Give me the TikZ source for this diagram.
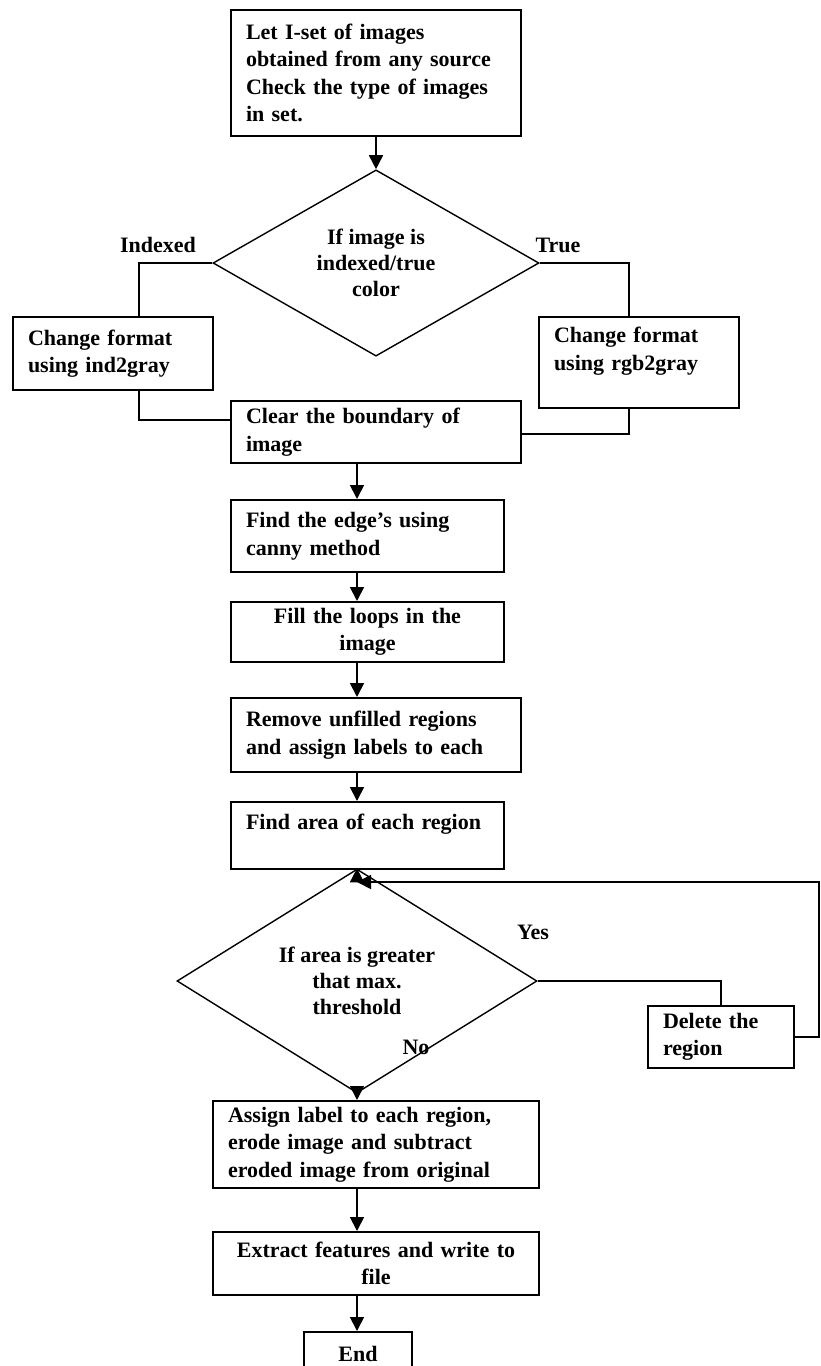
\documentclass[tikz,border=0pt]{standalone}
\usepackage{fontspec}
\setmainfont{Liberation Serif}
\usetikzlibrary{shapes.geometric,arrows.meta,calc}
\begin{document}
\begin{tikzpicture}[
        x=1pt, y=-1pt, % координаты в пикселях, ось y вниз
        txt/.style = {font=\bfseries\fontsize{22}{27.5}\selectfont},
        block/.style = {txt, draw, rectangle, line width=2pt, inner xsep=15pt, inner ysep=2pt, align=left}, % блоки
        cond/.style = {txt, draw, diamond, line width=1.4pt, inner sep=0pt, align=center, font=\bfseries\fontsize{22}{26}\selectfont}, % условия
        sign/.style = {txt, inner sep=0pt}, % подписи ветвей
        wire/.style = {draw, line width=1.8pt},
        flow/.style = {wire, -{Triangle[width=14pt, length=14pt]}},
    ]
    \useasboundingbox (0,0) rectangle (820,1366);
    \coordinate (axis) at (357,0);

    \node[block, text width=260pt, minimum height=126pt] (start) at (376,73) {Let I-set of images\\obtained from any source\\Check the type of images\\in set.};
    \node[cond, minimum width=326pt, minimum height=180pt] (dec1) at (376,263) {If image is\\indexed/true\\color};
    \node[block, text width=170pt, minimum height=73pt] (leftbox) at (113,353.5) {Change format\\using ind2gray};
    \node[block, text width=170pt, minimum height=91pt] (rightbox) at (639,362.5) {Change format\\using rgb2gray\\\mbox{}};
    \node[block, text width=260pt, minimum height=62pt] (clear) at (376,432) {Clear the boundary of\\image};
    \node[block, text width=243pt, minimum height=72pt] (edge) at (367.5,536) {Find the edge’s using\\canny method};
    \node[block, text width=243pt, minimum height=60pt, align=center] (fill) at (367.5,632) {Fill the loops in the\\image};
    \node[block, text width=260pt, minimum height=74pt] (remove) at (376,735) {Remove unfilled regions\\and assign labels to each};
    \node[block, text width=243pt, minimum height=67pt] (area) at (367.5,835.5) {Find area of each region\\\mbox{}};
    \node[cond, minimum width=360pt, minimum height=160pt] (dec2) at (357,981) {If area is greater\\that max.\\threshold};
    \node[block, text width=116pt, minimum height=62pt] (delete) at (721,1037) {Delete the\\region};
    \node[block, text width=296pt, minimum height=87pt] (assign) at (376,1144.5) {Assign label to each region,\\erode image and subtract\\eroded image from original};
    \node[block, text width=296pt, minimum height=63pt, align=center] (extract) at (376,1263.5) {Extract features and write to\\file};
    \node[block, text width=78pt, minimum height=44pt, align=center] (end) at (358,1354) {End};

    \node[sign] (indexed) at (158,245) {Indexed};
    \node[sign] (true) at (558,245) {True};
    \node[sign] (yes) at (533,932) {Yes};
    \node[sign] (no) at (416,1047) {No};

    % ветвление по типу изображения
    \draw[flow] (start.south) -- (dec1.north);
    \draw[wire] (dec1.west) -| ($(leftbox.north)+(26,0)$);
    \draw[wire] (dec1.east) -| ($(rightbox.north)+(-10,0)$);
    \draw[wire] ($(leftbox.south)+(26,0)$) |- ($(clear.west)+(0,-12)$);
    \draw[wire] ($(rightbox.south)+(-10,0)$) |- ($(clear.east)+(0,2)$);

    % основная цепочка
    \draw[flow] (clear.south -| axis) -- (edge.north -| axis);
    \draw[flow] (edge.south -| axis) -- (fill.north -| axis);
    \draw[flow] (fill.south -| axis) -- (remove.north -| axis);
    \draw[flow] (remove.south -| axis) -- (area.north -| axis);
    \draw[flow] (area.south -| axis) -- (dec2.north);
    \draw[flow] (dec2.south) -- (assign.north -| axis);
    \draw[flow] (assign.south -| axis) -- (extract.north -| axis);
    \draw[flow] (extract.south -| axis) -- (end.north -| axis);

    % возврат после удаления области
    \coordinate (merge) at ($(area.south -| axis)+(0,12)$);
    \draw[wire] (dec2.east) -| (delete.north);
    \draw[flow] (delete.east) -- ++(24,0) |- (merge);
\end{tikzpicture}
\end{document}
